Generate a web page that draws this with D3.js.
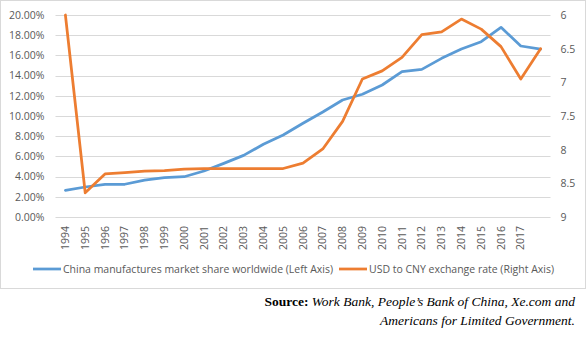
<!DOCTYPE html>
<html>
<head>
<meta charset="utf-8">
<script src="https://cdn.jsdelivr.net/npm/d3@7"></script>
<style>
  body { margin: 0; background: #fff; }
  svg { display: block; }
</style>
</head>
<body>
<svg id="chart"></svg>
<script>
// categories (the last slot has no label in the original)
const years = ['1994','1995','1996','1997','1998','1999','2000','2001','2002','2003','2004','2005',
  '2006','2007','2008','2009','2010','2011','2012','2013','2014','2015','2016','2017','2018'];
const yearLabels = ['1994','1995','1996','1997','1998','1999','2000','2001','2002','2003','2004','2005',
  '2006','2007','2008','2009','2010','2011','2012','2013','2014','2015','2016','2017',''];

// China manufactures market share worldwide (left axis, %)
const marketShare = [2.64, 2.97, 3.24, 3.24, 3.66, 3.89, 3.99, 4.55, 5.31, 6.10, 7.20, 8.12,
  9.28, 10.40, 11.58, 12.15, 13.07, 14.39, 14.62, 15.71, 16.63, 17.36, 18.78, 16.93, 16.63];

// USD to CNY exchange rate (right axis, inverted)
const exchangeRate = [6.00, 8.64, 8.36, 8.34, 8.32, 8.31, 8.29, 8.28, 8.28, 8.28, 8.28, 8.28,
  8.20, 7.99, 7.58, 6.95, 6.83, 6.63, 6.29, 6.25, 6.06, 6.21, 6.47, 6.95, 6.50];

const leftTicks = [0, 2, 4, 6, 8, 10, 12, 14, 16, 18, 20];
const rightTicks = [6, 6.5, 7, 7.5, 8, 8.5, 9];

const seriesNames = ['China manufactures market share worldwide (Left Axis)',
  'USD to CNY exchange rate (Right Axis)'];

const W = 586, H = 354;
const margin = {top: 15, left: 55.5, right: 35.5};
const plotH = 202;

const svg = d3.select('#chart')
  .attr('width', W)
  .attr('height', H);

svg.append('rect')
  .attr('x', 0.5).attr('y', 0.5)
  .attr('width', W - 1).attr('height', 288)
  .attr('fill', '#fff')
  .attr('stroke', '#d9d9d9');

const x = d3.scaleBand()
  .domain(years)
  .range([margin.left, W - margin.right]);

const yLeft = d3.scaleLinear()
  .domain([0, 20])
  .range([margin.top + plotH, margin.top]);

const yRight = d3.scaleLinear()
  .domain([6, 9])
  .range([margin.top, margin.top + plotH]);

const font = '"Open Sans", "Noto Sans", sans-serif';
const grey = '#595959';

// gridlines
svg.append('g')
  .selectAll('line')
  .data(leftTicks)
  .enter()
  .append('line')
  .attr('x1', margin.left)
  .attr('x2', W - margin.right)
  .attr('y1', d => Math.round(yLeft(d)) + 0.5)
  .attr('y2', d => Math.round(yLeft(d)) + 0.5)
  .attr('stroke', '#d9d9d9')
  .attr('stroke-width', 1);

// left axis
const gl = svg.append('g')
  .attr('transform', `translate(${margin.left - 11}, 0)`)
  .call(d3.axisLeft(yLeft).tickValues(leftTicks).tickSize(0).tickPadding(0)
    .tickFormat(d => d.toFixed(2) + '%'));
gl.select('.domain').remove();
gl.selectAll('text')
  .attr('fill', grey)
  .style('font-family', font)
  .style('font-size', '10.5px');

// right axis
const gr = svg.append('g')
  .attr('transform', `translate(${W - margin.right + 10}, 0)`)
  .call(d3.axisRight(yRight).tickValues(rightTicks).tickSize(0).tickPadding(0)
    .tickFormat(d => String(d)));
gr.select('.domain').remove();
gr.selectAll('text')
  .attr('fill', grey)
  .style('font-family', font)
  .style('font-size', '10.5px');

// bottom axis (rotated category labels)
const gb = svg.append('g')
  .attr('transform', `translate(0, ${margin.top + plotH})`)
  .call(d3.axisBottom(x).tickSize(0).tickFormat((d, i) => yearLabels[i]));
gb.select('.domain').remove();
gb.selectAll('text')
  .attr('fill', grey)
  .style('font-family', font)
  .style('font-size', '10.5px')
  .attr('text-anchor', 'end')
  .attr('transform', 'rotate(-90)')
  .attr('x', -9)
  .attr('y', 0)
  .attr('dy', '0.35em');

// lines
const lineLeft = d3.line()
  .x((d, i) => x(years[i]) + x.bandwidth() / 2)
  .y(d => yLeft(d));

const lineRight = d3.line()
  .x((d, i) => x(years[i]) + x.bandwidth() / 2)
  .y(d => yRight(d));

svg.append('path')
  .datum(marketShare)
  .attr('fill', 'none')
  .attr('stroke', '#5b9bd5')
  .attr('stroke-width', 2.75)
  .attr('stroke-linejoin', 'round')
  .attr('stroke-linecap', 'round')
  .attr('d', lineLeft);

svg.append('path')
  .datum(exchangeRate)
  .attr('fill', 'none')
  .attr('stroke', '#ed7d31')
  .attr('stroke-width', 2.75)
  .attr('stroke-linejoin', 'round')
  .attr('stroke-linecap', 'round')
  .attr('d', lineRight);

// legend
const legendColors = ['#5b9bd5', '#ed7d31'];
const legendX = [33, 339];
const legendW = [270, 185];
const legendY = 269;

seriesNames.forEach((name, i) => {
  svg.append('line')
    .attr('x1', legendX[i]).attr('x2', legendX[i] + 28)
    .attr('y1', legendY).attr('y2', legendY)
    .attr('stroke', legendColors[i])
    .attr('stroke-width', 2.75);
  svg.append('text')
    .attr('x', legendX[i] + 30)
    .attr('y', legendY)
    .attr('dy', '0.35em')
    .attr('fill', grey)
    .style('font-family', font)
    .style('font-size', '10.5px')
    .attr('textLength', legendW[i])
    .attr('lengthAdjust', 'spacingAndGlyphs')
    .text(name);
});

// source note
const serif = '"Liberation Serif", "Times New Roman", serif';
const src1 = svg.append('text')
  .attr('x', 575).attr('y', 306)
  .attr('text-anchor', 'end')
  .style('font-family', serif)
  .style('font-size', '13.5px')
  .attr('fill', '#000');
src1.append('tspan').style('font-weight', 'bold').text('Source: ');
src1.append('tspan').style('font-style', 'italic')
  .text('Work Bank, People\u2019s Bank of China, Xe.com and');

svg.append('text')
  .attr('x', 575).attr('y', 325)
  .attr('text-anchor', 'end')
  .style('font-family', serif)
  .style('font-size', '13.5px')
  .style('font-style', 'italic')
  .attr('fill', '#000')
  .text('Americans for Limited Government.');
</script>
</body>
</html>
